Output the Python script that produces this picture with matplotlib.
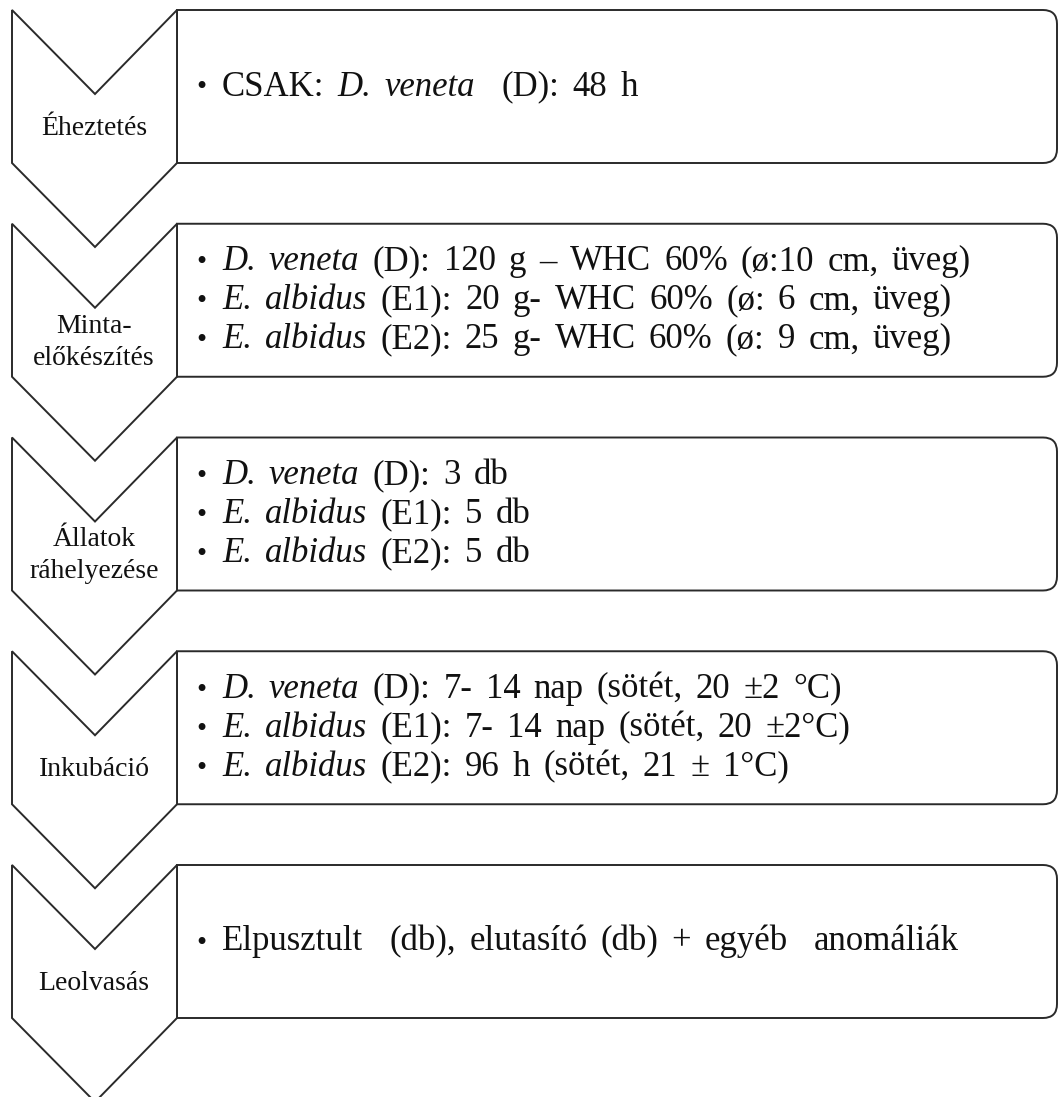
import re
import matplotlib
matplotlib.use("Agg")
import matplotlib.pyplot as plt
from matplotlib.patches import Polygon, PathPatch
from matplotlib.path import Path

# step labels (left chevrons)
step_labels = [
    ["Éheztetés"],
    ["Minta-", "előkészítés"],
    ["Állatok", "ráhelyezése"],
    ["Inkubáció"],
    ["Leolvasás"],
]

# bullet text: each line is a list of (text, italic)
step_bullets = [
    [[("CSAK: ", False), ("D. veneta", True), ("  (D): 48 h", False)]],
    [[("D. veneta", True), (" (D): 120 g – WHC 60% (ø:10 cm, üveg)", False)],
     [("E. albidus", True), (" (E1): 20 g- WHC 60% (ø: 6 cm, üveg)", False)],
     [("E. albidus", True), (" (E2): 25 g- WHC 60% (ø: 9 cm, üveg)", False)]],
    [[("D. veneta", True), (" (D): 3 db", False)],
     [("E. albidus", True), (" (E1): 5 db", False)],
     [("E. albidus", True), (" (E2): 5 db", False)]],
    [[("D. veneta", True), (" (D): 7- 14 nap (sötét, 20 ±2 °C)", False)],
     [("E. albidus", True), (" (E1): 7- 14 nap (sötét, 20 ±2°C)", False)],
     [("E. albidus", True), (" (E2): 96 h (sötét, 21 ± 1°C)", False)]],
    [[("Elpusztult  (db), elutasító (db) + egyéb  anomáliák", False)]],
]

W, H = 1059, 1097
fig = plt.figure(figsize=(W / 100, H / 100), dpi=100)
ax = fig.add_axes([0, 0, 1, 1])
ax.set_xlim(0, W)
ax.set_ylim(H, 0)
ax.axis("off")

line_col = "#2a2a2a"
txt_col = "#111111"
step = 213.75
x_l, x_m, x_r = 12, 95, 177
box_r = 1057
notch, box_h = 84, 153
serif = "Liberation Serif"
body_size = 25
label_size = 20
space_scale = 1.5   # word spacing in the original is a bit wide
line_gap = 39
label_gap = 32

renderer = fig.canvas.get_renderer()


def text_width(s, italic):
    style = "italic" if italic else "normal"
    t1 = ax.text(0, 0, "|" + s + "|", fontsize=body_size, family=serif, style=style)
    t2 = ax.text(0, 0, "||", fontsize=body_size, family=serif, style=style)
    w = t1.get_window_extent(renderer).width - t2.get_window_extent(renderer).width
    t1.remove()
    t2.remove()
    return w


space_w = text_width(" ", False)

for i in range(len(step_labels)):
    top = 10 + i * step
    mid = top + box_h / 2
    # box with rounded right corners
    r = 14
    verts = [(x_r, top), (box_r - r, top), (box_r, top), (box_r, top + r),
             (box_r, top + box_h - r), (box_r, top + box_h), (box_r - r, top + box_h),
             (x_r, top + box_h), (x_r, top)]
    codes = [Path.MOVETO, Path.LINETO, Path.CURVE3, Path.CURVE3,
             Path.LINETO, Path.CURVE3, Path.CURVE3, Path.LINETO, Path.CLOSEPOLY]
    ax.add_patch(PathPatch(Path(verts, codes), facecolor="white",
                           edgecolor=line_col, lw=1.4, zorder=1))
    # chevron
    chev = [(x_l, top), (x_m, top + notch), (x_r, top), (x_r, top + box_h),
            (x_m, top + box_h + notch), (x_l, top + box_h)]
    ax.add_patch(Polygon(chev, closed=True, facecolor="white",
                         edgecolor=line_col, lw=1.4, zorder=2))

    labs = step_labels[i]
    for j, lab in enumerate(labs):
        base = top + 125 + (j - (len(labs) - 1) / 2) * label_gap
        ax.text(94, base, lab, fontsize=label_size, family=serif,
                ha="center", va="baseline", color=txt_col, zorder=3)

    lines = step_bullets[i]
    for j, line in enumerate(lines):
        base = mid + 9 + (j - (len(lines) - 1) / 2) * line_gap
        ax.text(196, base, "•", fontsize=body_size - 4, family=serif,
                va="baseline", color=txt_col, zorder=3)
        x = 222
        for s, it in line:
            for tok in re.split(r"( +)", s):
                if not tok:
                    continue
                if tok.startswith(" "):
                    x += len(tok) * space_w * space_scale
                    continue
                ax.text(x, base, tok, fontsize=body_size, family=serif,
                        style="italic" if it else "normal",
                        va="baseline", color=txt_col, zorder=3)
                x += text_width(tok, it)

fig.savefig("out.png", dpi=100, facecolor="white")
